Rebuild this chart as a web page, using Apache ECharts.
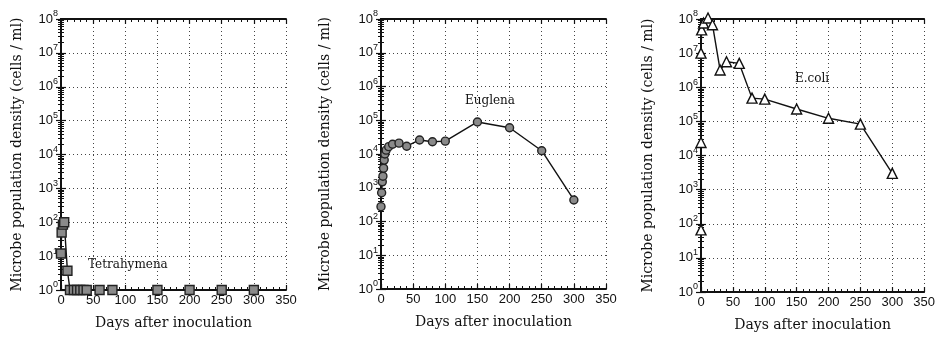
<!DOCTYPE html>
<html>
<head>
<meta charset="utf-8">
<script src="https://cdn.jsdelivr.net/npm/echarts@6/dist/echarts.min.js"></script>
<style>
  html, body { margin: 0; padding: 0; background: #fff; }
  #chart { width: 938px; height: 342px; }
</style>
</head>
<body>
<div id="chart"></div>
<script>
// values (days, cells / ml)
var tetraDays = [0, 1, 3, 5, 10, 14, 20, 25, 30, 35, 40, 60, 80, 150, 200, 250, 300]
var tetraCells = [12, 50, 85, 100, 3.7, 1, 1, 1, 1, 1, 1, 1, 1, 1, 1, 1, 1]

var euglenaDays = [0, 1, 2, 3, 4, 5, 6, 8, 12, 18, 28, 40, 60, 80, 100, 150, 200, 250, 300]
var euglenaCells = [275, 710, 1500, 2200, 3800, 6600, 10000, 13000, 16500, 19500, 21000, 17000, 26000, 23000, 24000, 89000, 60000, 12500, 435]

var ecoliDays = [0, 0, 0, 1, 4, 11, 18, 30, 40, 60, 80, 100, 150, 200, 250, 300]
var ecoliCells = [66, 24000, 1e7, 4.8e7, 7.6e7, 1.07e8, 6.8e7, 3.2e6, 5.6e6, 5e6, 4.8e5, 4.5e5, 2.3e5, 1.23e5, 8.3e4, 3000]

var xTicks = [0, 50, 100, 150, 200, 250, 300, 350]
var yExponents = [0, 1, 2, 3, 4, 5, 6, 7, 8]

var panelNames = ['Tetrahymena', 'Euglena', 'E.coli']

var serif = 'DejaVu Serif'
var tickFont = 'Liberation Sans'

function pairs(xs, ys) {
  return xs.map(function (x, i) { return [x, ys[i]] })
}

var grids = [
  { left: 61, top: 19, width: 225, height: 271 },
  { left: 381, top: 19, width: 225, height: 270 },
  { left: 701, top: 19, width: 224, height: 273 }
]
var yNameGaps = [37, 49, 46]

var xAxes = []
var yAxes = []
grids.forEach(function (g, i) {
  // bottom axis with labels
  xAxes.push({
    type: 'value',
    gridIndex: i,
    min: xTicks[0],
    max: xTicks[xTicks.length - 1],
    interval: xTicks[1] - xTicks[0],
    name: 'Days after inoculation',
    nameLocation: 'middle',
    nameGap: 26,
    nameTextStyle: { fontFamily: serif, fontSize: 14, color: '#111' },
    axisLine: { lineStyle: { color: '#111', width: 2 } },
    axisTick: { inside: true, length: 5, lineStyle: { color: '#111', width: 1.2 } },
    minorTick: { show: true, splitNumber: 5, length: 3, lineStyle: { color: '#111' } },
    axisLabel: { margin: 4, fontFamily: tickFont, fontSize: 13, color: '#111' },
    splitLine: { show: true, lineStyle: { color: '#444', type: [1, 3], width: 1 } }
  })
  // mirrored top axis, ticks only
  xAxes.push({
    type: 'value',
    gridIndex: i,
    position: 'top',
    min: xTicks[0],
    max: xTicks[xTicks.length - 1],
    interval: xTicks[1] - xTicks[0],
    axisLine: { lineStyle: { color: '#111', width: 2 } },
    axisTick: { inside: true, length: 5, lineStyle: { color: '#111', width: 1.2 } },
    minorTick: { show: true, splitNumber: 5, length: 3, lineStyle: { color: '#111' } },
    axisLabel: { show: false },
    splitLine: { show: false }
  })
  yAxes.push({
    type: 'log',
    logBase: 10,
    gridIndex: i,
    min: Math.pow(10, yExponents[0]),
    max: Math.pow(10, yExponents[yExponents.length - 1]),
    splitNumber: yExponents.length - 1,
    name: 'Microbe population density (cells / ml)',
    nameLocation: 'middle',
    nameGap: yNameGaps[i],
    nameTextStyle: { fontFamily: serif, fontSize: 14, color: '#111' },
    axisLine: { show: true, lineStyle: { color: '#111', width: 2 } },
    axisTick: { show: true, inside: true, length: 5, lineStyle: { color: '#111', width: 1.2 } },
    minorTick: { show: true, splitNumber: 9, length: 3, lineStyle: { color: '#111' } },
    axisLabel: {
      margin: 3,
      formatter: function (v) {
        return '{b|10}{s|' + Math.round(Math.log(v) / Math.LN10) + '}'
      },
      rich: {
        b: { fontFamily: tickFont, fontSize: 13, color: '#111' },
        s: { fontFamily: tickFont, fontSize: 9, color: '#111', padding: [0, 0, 10, 0] }
      }
    },
    splitLine: { show: true, lineStyle: { color: '#444', type: [1, 3], width: 1 } }
  })
  yAxes.push({
    type: 'log',
    logBase: 10,
    gridIndex: i,
    position: 'right',
    min: Math.pow(10, yExponents[0]),
    max: Math.pow(10, yExponents[yExponents.length - 1]),
    splitNumber: yExponents.length - 1,
    axisLine: { show: true, lineStyle: { color: '#111', width: 2 } },
    axisTick: { show: true, inside: true, length: 5, lineStyle: { color: '#111', width: 1.2 } },
    minorTick: { show: true, splitNumber: 9, length: 3, lineStyle: { color: '#111' } },
    axisLabel: { show: false },
    splitLine: { show: false }
  })
})

var chart = echarts.init(document.getElementById('chart'))
chart.setOption({
  backgroundColor: '#fff',
  animation: false,
  grid: grids,
  xAxis: xAxes,
  yAxis: yAxes,
  series: [
    {
      name: panelNames[0],
      type: 'line',
      xAxisIndex: 0,
      yAxisIndex: 0,
      data: pairs(tetraDays, tetraCells),
      clip: false,
      symbol: 'rect',
      symbolSize: 9,
      lineStyle: { color: '#111', width: 1.4 },
      itemStyle: { color: '#8a8a8a', borderColor: '#222', borderWidth: 1.4 }
    },
    {
      name: panelNames[1],
      type: 'line',
      xAxisIndex: 2,
      yAxisIndex: 2,
      data: pairs(euglenaDays, euglenaCells),
      clip: false,
      symbol: 'circle',
      symbolSize: 8,
      lineStyle: { color: '#111', width: 1.4 },
      itemStyle: { color: '#8a8a8a', borderColor: '#222', borderWidth: 1.4 }
    },
    {
      name: panelNames[2],
      type: 'line',
      xAxisIndex: 4,
      yAxisIndex: 4,
      data: pairs(ecoliDays, ecoliCells),
      clip: false,
      symbol: 'triangle',
      symbolSize: 10,
      lineStyle: { color: '#111', width: 1.4 },
      itemStyle: { color: '#fff', borderColor: '#111', borderWidth: 1.4 }
    }
  ],
  graphic: [
    { type: 'text', left: 88, top: 259, style: { text: panelNames[0], font: '12px "DejaVu Serif"', fill: '#111' } },
    { type: 'text', left: 465, top: 95, style: { text: panelNames[1], font: '12px "DejaVu Serif"', fill: '#111' } },
    { type: 'text', left: 795, top: 73, style: { text: panelNames[2], font: '12px "DejaVu Serif"', fill: '#111' } }
  ]
})
</script>
</body>
</html>
